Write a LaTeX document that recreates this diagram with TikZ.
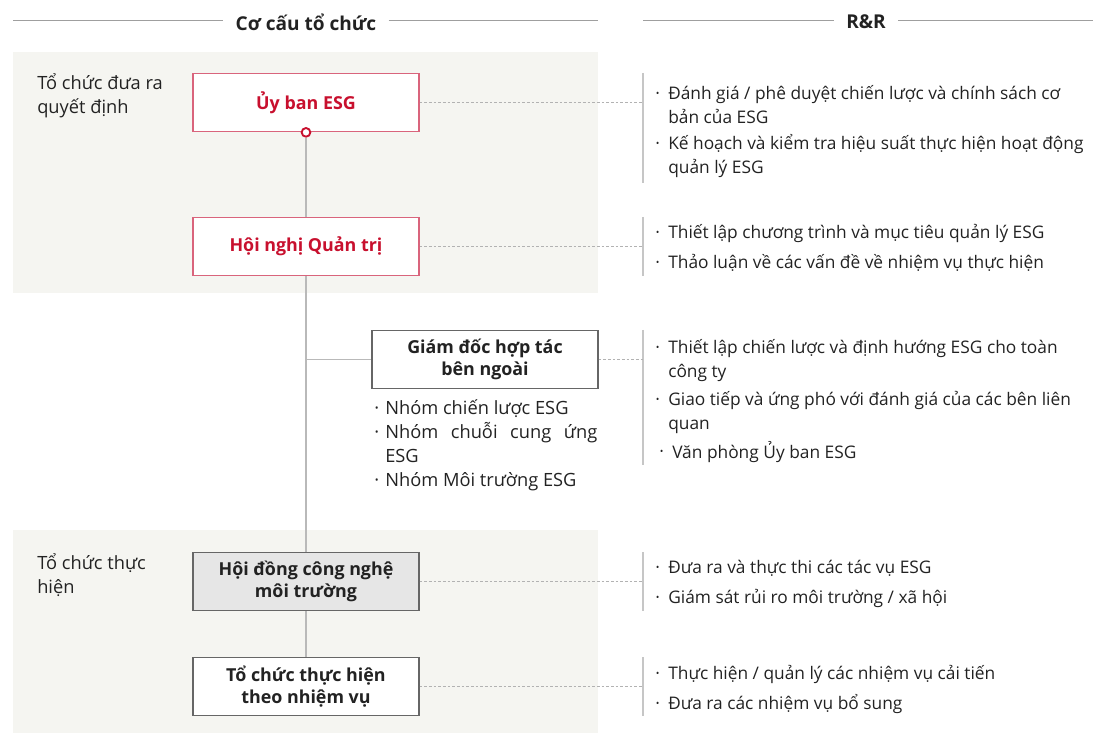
\documentclass[tikz,border=0pt]{standalone}
\usepackage{fontspec}
\setmainfont{Open Sans}
\usetikzlibrary{positioning, calc}

\definecolor{esgred}{HTML}{C8102E}
\definecolor{esgredline}{HTML}{D9647C}
\definecolor{panelbg}{HTML}{F5F5F1}
\definecolor{boxgray}{HTML}{E6E6E6}
\definecolor{txtdark}{HTML}{222222}
\newcommand{\rrfont}{\fontsize{13}{17.6}\selectfont}
\newcommand{\orgfont}{\fontsize{13.7}{17.6}\selectfont}

\begin{document}
\begin{tikzpicture}[
  x=0.75pt, y=-0.75pt,
  box/.style={rectangle, draw=#1, fill=white, line width=0.8pt,
              minimum width=169.5pt, minimum height=44pt, align=center,
              font=\fontsize{13.4}{16.5}\selectfont\bfseries, text=txtdark},
  redbox/.style={box=esgredline, text=esgred},
  panel/.style={fill=panelbg, draw=none},
  header/.style={font=\fontsize{14.3}{15}\selectfont\bfseries, text=txtdark, inner sep=9pt},
  hline/.style={draw=gray!75, line width=0.6pt},
  link/.style={draw=gray!55, line width=1pt},
  dashlink/.style={draw=gray!60, dashed, dash pattern=on 2pt off 1.5pt, line width=0.5pt},
  rbar/.style={draw=gray!45, line width=0.8pt},
  rrtext/.style={anchor=north west, inner sep=0pt, align=left, font=\rrfont, text=txtdark},
  orgtext/.style={rrtext, font=\orgfont},
  bul/.style={anchor=north west, inner sep=0pt, font=\rrfont, text=txtdark}
]
\useasboundingbox (0,0) rectangle (1093,734);

% ==================== HEADERS ====================
\node[header] (hdorg) at (306,22) {Cơ cấu tổ chức};
\node[header] (hdrr) at (866,22) {R\&R};
\coordinate (hl1) at (13,20);  \coordinate (hl2) at (598,20);
\coordinate (hl3) at (643,20); \coordinate (hl4) at (1093,20);
\draw[hline] (hl1) -- (hl1 -| hdorg.west);
\draw[hline] (hl2 -| hdorg.east) -- (hl2);
\draw[hline] (hl3) -- (hl3 -| hdrr.west);
\draw[hline] (hl4 -| hdrr.east) -- (hl4);

% ==================== PANELS ====================
\fill[panel] (13,52) rectangle (598,293);
\fill[panel] (13,530) rectangle (598,733);
\node[orgtext] (lbldec) at (37,73) {\strut Tổ chức đưa ra\\quyết định};
\node[orgtext] (lblexe) at (37,553) {\strut Tổ chức thực\\hiện};

% ==================== BOXES ====================
\node[redbox] (esg) at (306,102.5) {Ủy ban ESG};
\node[redbox] (gov) at (306,246.5) {Hội nghị Quản trị};
\node[box=gray!80!black] (ext) at (485,359.5) {Giám đốc hợp tác\\bên ngoài};
\node[box=gray!80!black, fill=boxgray] (tech) at (306,581.5) {Hội đồng công nghệ\\môi trường};
\node[box=gray!80!black] (task) at (306,686.5) {Tổ chức thực hiện\\theo nhiệm vụ};

\node[circle, draw=esgred, fill=white, line width=1.4pt, inner sep=0pt,
      minimum size=6.5pt] (knot) at (esg.south) {};

% ==================== LINKS ====================
\draw[link] (knot) -- (gov.north);
\draw[link] (gov.south) -- (tech.north);
\draw[link] (tech.south) -- (task.north);
\draw[link] (ext.west -| gov.south) -- (ext.west);

% team list under ext
\node[bul, font=\orgfont] (tb1) at (374,398) {\strut·};
\node[orgtext] (tt1) at (385,398) {\strut Nhóm chiến lược ESG};
\node[bul, font=\orgfont] (tb2) at (374,422) {\strut·};
\node[orgtext] (tt2) at (385,422) {\strut\makebox[159pt][s]{Nhóm chuỗi cung ứng}\\ESG};
\node[bul, font=\orgfont] (tb3) at (374,470) {\strut·};
\node[orgtext] (tt3) at (385,470) {\strut Nhóm Môi trường ESG};

% ==================== R&R BARS ====================
\coordinate (r1a) at (643,73);  \coordinate (r1b) at (643,183);
\coordinate (r2a) at (643,217); \coordinate (r2b) at (643,276);
\coordinate (r3a) at (643,330); \coordinate (r3b) at (643,465);
\coordinate (r4a) at (643,552); \coordinate (r4b) at (643,611);
\coordinate (r5a) at (643,657); \coordinate (r5b) at (643,716);
\foreach \g in {1,...,5} {\draw[rbar] (r\g a) -- (r\g b);}

\draw[dashlink] (esg.east) -- (esg.east -| r1a);
\draw[dashlink] (gov.east) -- (gov.east -| r2a);
\draw[dashlink] (ext.east) -- (ext.east -| r3a);
\draw[dashlink] (tech.east) -- (tech.east -| r4a);
\draw[dashlink] (task.east) -- (task.east -| r5a);

% ==================== R&R TEXT ====================
\node[bul] (b11) at (655,83) {\strut·};
\node[rrtext] (t11) at (668,83) {\strut Đánh giá / phê duyệt chiến lược và chính sách cơ\\bản của ESG};
\node[bul] (b12) at (655,133) {\strut·};
\node[rrtext] (t12) at (668,133) {\strut Kế hoạch và kiểm tra hiệu suất thực hiện hoạt động\\quản lý ESG};

\node[bul] (b21) at (655,222) {\strut·};
\node[rrtext] (t21) at (668,222) {\strut Thiết lập chương trình và mục tiêu quản lý ESG};
\node[bul] (b22) at (655,252) {\strut·};
\node[rrtext] (t22) at (668,252) {\strut Thảo luận về các vấn đề về nhiệm vụ thực hiện};

\node[bul] (b31) at (655,337) {\strut·};
\node[rrtext] (t31) at (668,337) {\strut Thiết lập chiến lược và định hướng ESG cho toàn\\công ty};
\node[bul] (b32) at (655,389) {\strut·};
\node[rrtext] (t32) at (668,389) {\strut Giao tiếp và ứng phó với đánh giá của các bên liên\\quan};
\node[bul] (b33) at (659,441) {\strut·};
\node[rrtext] (t33) at (672,441) {\strut Văn phòng Ủy ban ESG};

\node[bul] (b41) at (655,557) {\strut·};
\node[rrtext] (t41) at (668,557) {\strut Đưa ra và thực thi các tác vụ ESG};
\node[bul] (b42) at (655,587) {\strut·};
\node[rrtext] (t42) at (668,587) {\strut Giám sát rủi ro môi trường / xã hội};

\node[bul] (b51) at (655,663) {\strut·};
\node[rrtext] (t51) at (668,663) {\strut Thực hiện / quản lý các nhiệm vụ cải tiến};
\node[bul] (b52) at (655,693) {\strut·};
\node[rrtext] (t52) at (668,693) {\strut Đưa ra các nhiệm vụ bổ sung};

\end{tikzpicture}
\end{document}
